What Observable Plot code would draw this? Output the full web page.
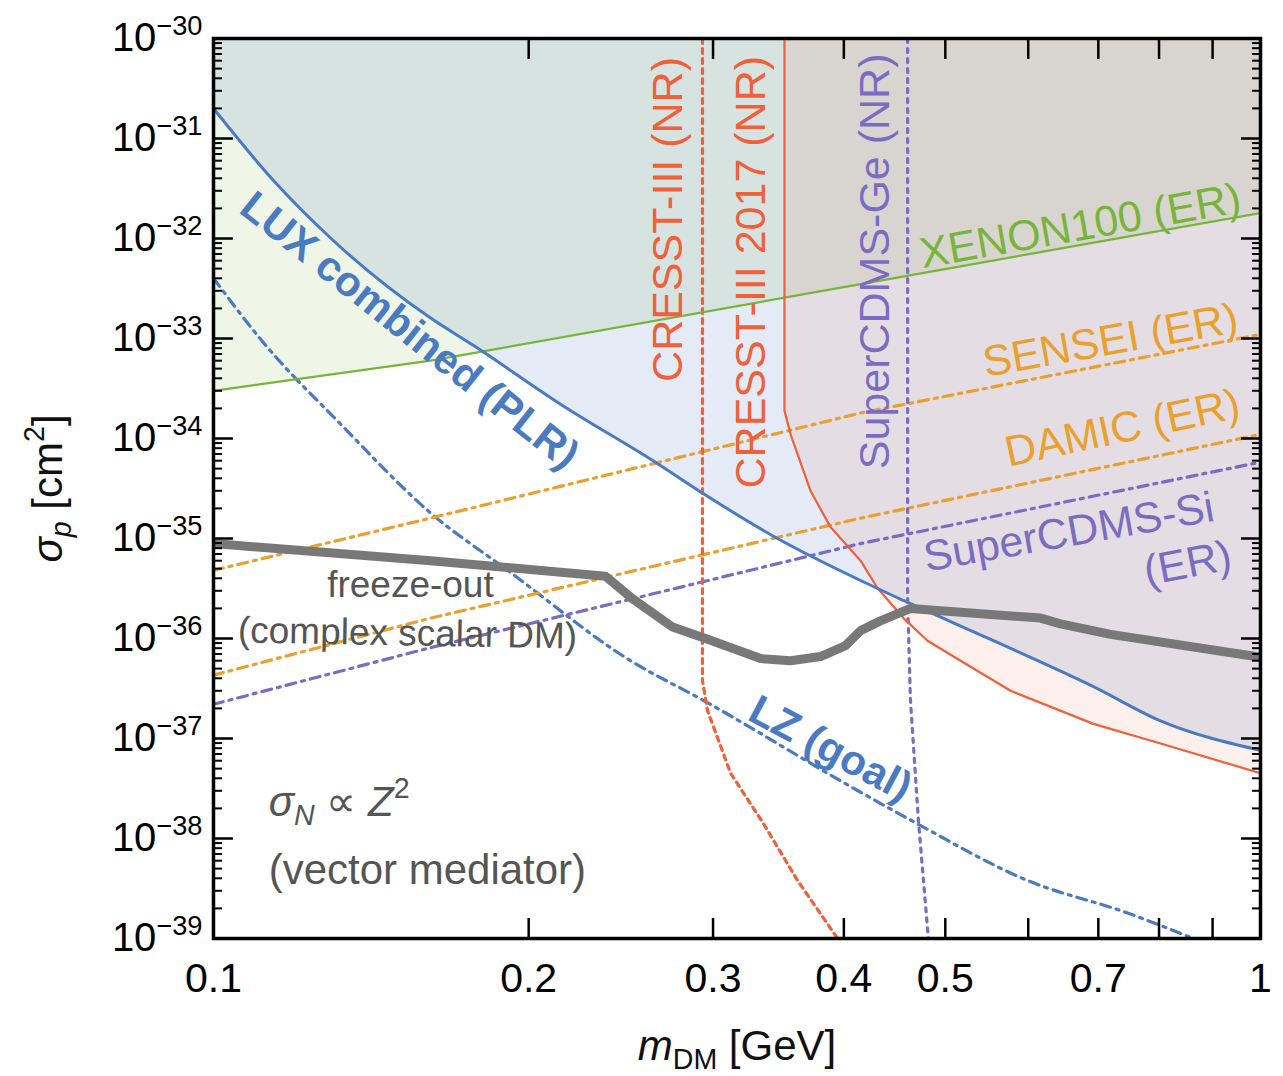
<!DOCTYPE html>
<html>
<head>
<meta charset="utf-8">
<script src="https://cdn.jsdelivr.net/npm/d3@7"></script>
<script src="https://cdn.jsdelivr.net/npm/@observablehq/plot@0.6"></script>
<style>
  body { margin: 0; background: #fff; }
  svg { display: block; }
</style>
</head>
<body>
<div id="chart"></div>
<script>
// ---------- data: [m_DM in GeV, sigma_p in cm^2] ----------
const luxCombined = [[0.1,2.0e-31],[0.1141,3.8e-32],[0.1302,9.5e-33],[0.1612,1.6e-33],[0.1772,8.5e-34],[0.2145,2.2e-34],[0.2656,5.6e-35],[0.2938,2.8e-35],[0.3457,1.0e-35],[0.415,3.8e-36],[0.456,2.4e-36],[0.5559,9.5e-37],[0.6925,3.3e-37],[0.8027,1.5e-37],[1,7.6e-38]];
const xenon100 = [[0.1,3.0e-34],[0.1612,6.0e-34],[0.415,3.5e-33],[1,1.8e-32]];
const cresst2017 = [[0.351,1e-30],[0.351,1.9e-34],[0.3558,1.1e-34],[0.3717,3.0e-35],[0.3884,1.3e-35],[0.415,6.0e-36],[0.4306,3.2e-36],[0.456,1.6e-36],[0.4808,9.5e-37],[0.517,6.0e-37],[0.5772,3.0e-37],[0.6925,1.4e-37],[0.8027,8.9e-38],[1,4.5e-38]];
const cresstIII = [[0.2931,1e-30],[0.2931,3.8e-37],[0.2964,1.9e-37],[0.3118,4.5e-38],[0.3353,1.4e-38],[0.3613,3.8e-39],[0.3945,1.0e-39]];
const superCdmsGe = [[0.4602,1e-30],[0.4602,2.4e-36],[0.4631,2.4e-37],[0.4713,1.5e-38],[0.4817,1.0e-39]];
const sensei = [[0.1,4.8e-36],[0.1612,1.6e-35],[0.415,1.8e-34],[1,1.1e-33]];
const damic = [[0.1,4.3e-37],[0.1612,1.6e-36],[0.415,1.6e-35],[1,1.1e-34]];
const superCdmsSi = [[0.1,2.2e-37],[0.1612,8.1e-37],[0.415,8.9e-36],[1,5.8e-35]];
const lzGoal = [[0.1,4.0e-33],[0.1116,9.1e-34],[0.1322,1.4e-34],[0.1612,1.8e-35],[0.1910,4.8e-36],[0.2502,6.0e-37],[0.2938,2.4e-37],[0.415,2.9e-38],[0.4704,1.4e-38],[0.5991,3.8e-39],[0.7464,1.8e-39],[0.863,1.0e-39]];
const freezeOut = [[0.1,8.9e-36],[0.1612,6.0e-36],[0.2368,4.2e-36],[0.2513,2.5e-36],[0.2745,1.3e-36],[0.2951,1.0e-36],[0.3331,6.3e-37],[0.3558,6.0e-37],[0.38,6.6e-37],[0.4015,8.5e-37],[0.415,1.2e-36],[0.4335,1.5e-36],[0.4631,2.0e-36],[0.6166,1.6e-36],[0.6442,1.4e-36],[0.7192,1.1e-36],[1,6.5e-37]];

// ---------- ticks ----------
const xDomain = [0.1, 1];
const yDomain = [1e-39, 1e-30];
const xMajorTicks = [0.2,0.3,0.4,0.5,0.6,0.7,0.8,0.9];
const xTickLabels = [0.1,0.2,0.3,0.4,0.5,0.7,1];
const yDecades = [1e-39,1e-38,1e-37,1e-36,1e-35,1e-34,1e-33,1e-32,1e-31,1e-30];
const yMinorMultipliers = [2,3,4,5,6,7,8,9];
const yMinor = yDecades.slice(0, -1).flatMap(d => yMinorMultipliers.map(k => k * d));

// ---------- styles ----------
const FONT = '"Liberation Sans", Arimo, Arial, Helvetica, sans-serif';
const blue = "#4a7bc1", green = "#78b43a", red = "#f0603a", orange = "#e9a02f",
      purple = "#7b6cc2", grayLine = "#787878", textGray = "#555555";

const annotations = [
  {text: "LUX combined (PLR)", x: 0.1539, y: 1.2e-33, rotate: 38.4, fill: blue, fontWeight: "bold", fontSize: 42},
  {text: "CRESST-III (NR)", x: 0.2720, y: 1.55e-32, rotate: -90, fill: red, fontSize: 43},
  {text: "CRESST-III 2017 (NR)", x: 0.3265, y: 4.6e-33, rotate: -90, fill: red, fontSize: 43},
  {text: "SuperCDMS-Ge (NR)", x: 0.4288, y: 5.9e-33, rotate: -90, fill: purple, fontSize: 43},
  {text: "XENON100 (ER)", x: 0.673, y: 1.32e-32, rotate: -10, fill: green, fontSize: 43},
  {text: "SENSEI (ER)", x: 0.719, y: 9.5e-34, rotate: -10, fill: orange, fontSize: 43},
  {text: "DAMIC (ER)", x: 0.738, y: 1.26e-34, rotate: -12, fill: orange, fontSize: 43},
  {text: "SuperCDMS-Si", x: 0.656, y: 1.15e-35, rotate: -10, fill: purple, fontSize: 43},
  {text: "(ER)", x: 0.852, y: 5.6e-36, rotate: -11, fill: purple, fontSize: 43},
  {text: "freeze-out", x: 0.1542, y: 3.4e-36, rotate: 0, fill: textGray, fontSize: 37},
  {text: "(complex scalar DM)", x: 0.1532, y: 1.12e-36, rotate: 1, fill: textGray, fontSize: 37},
  {text: "LZ (goal)", x: 0.3884, y: 7.9e-38, rotate: 28, fill: blue, fontWeight: "bold", fontSize: 42},
  {text: "σN ∝ Z2", x: 0.1129, y: 2.3e-38, rotate: 0, fill: textGray, fontSize: 42, textAnchor: "start"},
  {text: "(vector mediator)", x: 0.1129, y: 4.8e-39, rotate: 0, fill: textGray, fontSize: 42, textAnchor: "start"}
];

const richSpecs = {
  "mDM [GeV]": [{t: "m", i: 1}, {t: "DM", sub: 1}, {t: " [GeV]"}],
  "σp [cm2]": [{t: "σ", i: 1}, {t: "p", i: 1, sub: 1}, {t: " [cm"}, {t: "2", sup: 1}, {t: "]"}],
  "σN ∝ Z2": [{t: "σ", i: 1}, {t: "N", i: 1, sub: 1}, {t: " ∝ "}, {t: "Z", i: 1}, {t: "2", sup: 1}]
};

const X = d => d[0], Y = d => d[1];
const yTop = yDomain[1], xRight = xDomain[1];
const dashDot = "10,6,3,6";

const marks = [
  // shaded excluded regions
  Plot.areaY(xenon100, {x: X, y1: Y, y2: yTop, fill: green, fillOpacity: 0.12, clip: true}),
  Plot.areaY(luxCombined, {x: X, y1: Y, y2: yTop, fill: blue, fillOpacity: 0.15, curve: "monotone-x", clip: true}),
  Plot.areaX(cresst2017, {y: Y, x1: X, x2: xRight, fill: red, fillOpacity: 0.10, clip: true}),
  // projections / ER limits (dashed)
  Plot.line(lzGoal, {x: X, y: Y, stroke: blue, strokeWidth: 3.2, strokeDasharray: dashDot, curve: "monotone-x", clip: true}),
  Plot.line(sensei, {x: X, y: Y, stroke: orange, strokeWidth: 3.2, strokeDasharray: dashDot, clip: true}),
  Plot.line(damic, {x: X, y: Y, stroke: orange, strokeWidth: 3.2, strokeDasharray: dashDot, clip: true}),
  Plot.line(superCdmsSi, {x: X, y: Y, stroke: purple, strokeWidth: 3.2, strokeDasharray: dashDot, clip: true}),
  Plot.line(cresstIII, {x: X, y: Y, stroke: red, strokeWidth: 3.2, strokeDasharray: "5,5", clip: true}),
  Plot.line(superCdmsGe, {x: X, y: Y, stroke: purple, strokeWidth: 3.2, strokeDasharray: "4,6", clip: true}),
  // solid limits
  Plot.line(xenon100, {x: X, y: Y, stroke: green, strokeWidth: 2.2, clip: true}),
  Plot.line(cresst2017, {x: X, y: Y, stroke: red, strokeWidth: 2.2, strokeLinejoin: "round", clip: true}),
  Plot.line(luxCombined, {x: X, y: Y, stroke: blue, strokeWidth: 3, curve: "monotone-x", clip: true}),
  // freeze-out line
  Plot.line(freezeOut, {x: X, y: Y, stroke: grayLine, strokeWidth: 9, strokeLinejoin: "round", clip: true}),
  // annotations
  ...annotations.map(a => Plot.text([a], {
    x: "x", y: "y", text: "text", rotate: a.rotate, fill: a.fill,
    fontSize: a.fontSize, fontWeight: a.fontWeight || "normal",
    textAnchor: a.textAnchor || "middle"
  })),
  // axes: labels
  Plot.axisX({anchor: "bottom", ticks: xTickLabels, tickSize: 0, tickPadding: 24,
              tickFormat: d => String(d), fontSize: 41, label: null}),
  Plot.axisY({anchor: "left", ticks: yDecades, tickSize: 0, tickPadding: 11,
              tickFormat: d => "−" + Math.round(-Math.log10(d)), fontSize: 40, label: null}),
  // axes: inward ticks
  Plot.axisX({anchor: "bottom", ticks: xMajorTicks, tickSize: -20, fill: "none", label: null, strokeWidth: 2.5}),
  Plot.axisX({anchor: "top", ticks: xMajorTicks, tickSize: -20, fill: "none", label: null, strokeWidth: 2.5}),
  Plot.axisY({anchor: "left", ticks: yDecades, tickSize: -20, fill: "none", label: null, strokeWidth: 2.5}),
  Plot.axisY({anchor: "left", ticks: yMinor, tickSize: -9, fill: "none", label: null, strokeWidth: 2}),
  Plot.axisY({anchor: "right", ticks: yDecades, tickSize: -20, fill: "none", label: null, strokeWidth: 2.5}),
  Plot.axisY({anchor: "right", ticks: yMinor, tickSize: -9, fill: "none", label: null, strokeWidth: 2}),
  // axis titles
  Plot.text(["mDM [GeV]"], {text: d => d, frameAnchor: "bottom", lineAnchor: "middle", textAnchor: "middle",
                            dy: 108, fontSize: 42, fill: "#111"}),
  Plot.text(["σp [cm2]"], {text: d => d, frameAnchor: "left", lineAnchor: "middle", textAnchor: "middle",
                           dx: -165, rotate: -90, fontSize: 42, fill: "#111"}),
  Plot.frame({stroke: "#000", strokeWidth: 3.5})
];

const chart = Plot.plot({
  width: 1283, height: 1076,
  marginLeft: 213, marginRight: 23, marginTop: 38, marginBottom: 138,
  x: {type: "log", domain: xDomain},
  y: {type: "log", domain: yDomain},
  style: {fontFamily: FONT, background: "#fff", color: "#000", overflow: "visible"},
  marks
});

function richify(node, parts, F) {
  node.textContent = "";
  let cur = 0;
  for (const p of parts) {
    const ts = document.createElementNS("http://www.w3.org/2000/svg", "tspan");
    const target = p.sub ? 0.22 * F : p.sup ? -0.42 * F : 0;
    if (target !== cur) { ts.setAttribute("dy", (target - cur).toFixed(1)); cur = target; }
    if (p.sub || p.sup) ts.setAttribute("font-size", (0.68 * F).toFixed(1));
    if (p.i) ts.setAttribute("font-style", "italic");
    ts.textContent = p.t;
    node.appendChild(ts);
  }
}

const svgSel = d3.select(chart);
// y tick labels: 10 with superscript exponent
svgSel.selectAll('g[aria-label="y-axis tick label"] text').each(function() {
  const e = this.textContent;
  richify(this, [{t: "10"}, {t: e, sup: 1}], 40);
});
// rich text labels
svgSel.selectAll("text").each(function() {
  const spec = richSpecs[this.textContent];
  if (spec) {
    const F = parseFloat(this.getAttribute("font-size") || this.parentNode.getAttribute("font-size") || 42);
    richify(this, spec, F);
  }
});

document.getElementById("chart").appendChild(chart);
</script>
</body>
</html>
